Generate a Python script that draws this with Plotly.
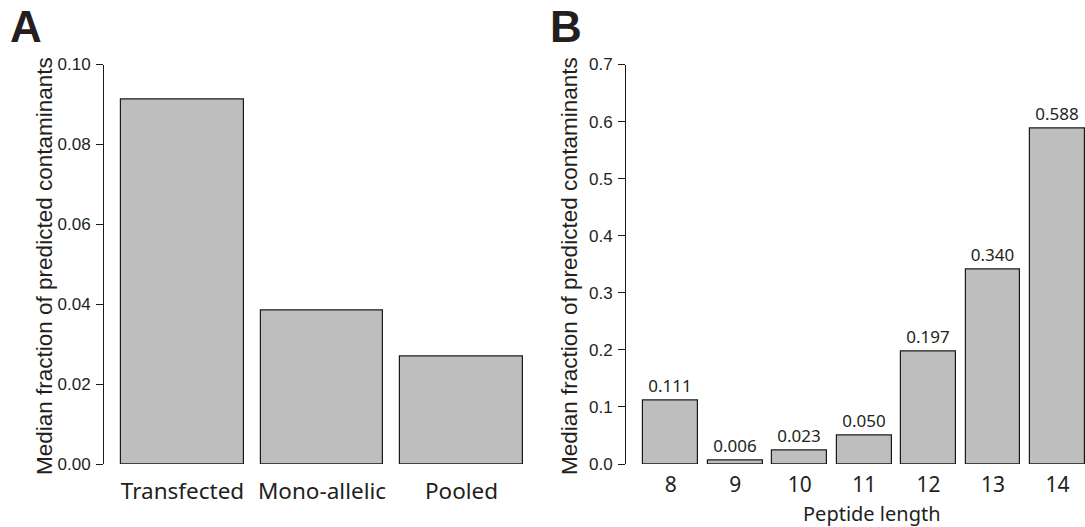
import plotly.graph_objects as go

# Panel A data
cell_types = ["Transfected", "Mono-allelic", "Pooled"]
frac_by_type = [0.0912, 0.0384, 0.0268]
a_ticks = [0.00, 0.02, 0.04, 0.06, 0.08, 0.10]
a_ticklabels = ["0.00", "0.02", "0.04", "0.06", "0.08", "0.10"]

# Panel B data
lengths = ["8", "9", "10", "11", "12", "13", "14"]
frac_by_length = [0.111, 0.006, 0.023, 0.050, 0.197, 0.340, 0.588]
b_ticks = [0.0, 0.1, 0.2, 0.3, 0.4, 0.5, 0.6, 0.7]
b_ticklabels = ["0.0", "0.1", "0.2", "0.3", "0.4", "0.5", "0.6", "0.7"]

y_title = "Median fraction of predicted contaminants"
x_title_b = "Peptide length"

W, H = 1085, 527
BAR = "#bebebe"
LINE = "#1a1a1a"
TXT = "#231f20"
HELV = "Liberation Sans, Arial, sans-serif"
MYR = "Noto Sans, Open Sans, sans-serif"

fig = go.Figure()
fig.add_trace(go.Bar(
    x=cell_types, y=frac_by_type, xaxis="x", yaxis="y",
    marker=dict(color=BAR, line=dict(color=LINE, width=1.2)),
    width=0.88, showlegend=False, hoverinfo="skip"))
fig.add_trace(go.Bar(
    x=lengths, y=frac_by_length, xaxis="x2", yaxis="y2",
    marker=dict(color=BAR, line=dict(color=LINE, width=1.2)),
    width=0.85, showlegend=False, hoverinfo="skip",
    text=[f"{v:.3f}" for v in frac_by_length], textposition="outside",
    textfont=dict(family=MYR, size=17, color=TXT), cliponaxis=False))

Y0, Y1 = 464, 64.5
ydom = [(H - Y0) / H, (H - Y1) / H]

def xr(center0, step, left, right):
    return [(left - center0) / step, (right - center0) / step]

yax_common = dict(showline=True, linecolor=LINE, linewidth=1, ticks="outside",
                  ticklen=7, tickcolor=LINE, tickwidth=1, showgrid=False, zeroline=False,
                  tickfont=dict(family=HELV, size=17, color=TXT), automargin=False,
                  ticklabelstandoff=2)

fig.update_layout(
    width=W, height=H, margin=dict(l=0, r=0, t=0, b=0, autoexpand=False),
    plot_bgcolor="white", paper_bgcolor="white",
    bargap=0,
    xaxis=dict(domain=[104 / W, 524 / W], range=xr(182.5, 139.5, 104, 524),
               type="category", showline=False, ticks="", showgrid=False,
               tickfont=dict(family=MYR, size=22.5, color=TXT), anchor="y",
               automargin=False, ticklabelstandoff=11),
    yaxis=dict(domain=ydom, range=[0, 0.1], tickvals=a_ticks, ticktext=a_ticklabels,
               anchor="x", **yax_common),
    xaxis2=dict(domain=[626 / W, 1.0], range=xr(670.8, 64.45, 626, 1085),
                type="category", showline=False, ticks="", showgrid=False,
                tickfont=dict(family=MYR, size=21, color=TXT), anchor="y2",
                automargin=False, ticklabelstandoff=6),
    yaxis2=dict(domain=ydom, range=[0, 0.7], tickvals=b_ticks, ticktext=b_ticklabels,
                anchor="x2", **yax_common),
    annotations=[
        dict(text="<b>A</b>", x=8 / W, y=1.0, xref="paper", yref="paper",
             xanchor="left", yanchor="top", showarrow=False,
             font=dict(family=HELV, size=44, color=TXT)),
        dict(text="<b>B</b>", x=548 / W, y=1.0, xref="paper", yref="paper",
             xanchor="left", yanchor="top", showarrow=False,
             font=dict(family=HELV, size=44, color=TXT)),
        dict(text=y_title, textangle=-90, x=44 / W, y=(H - 266) / H,
             xref="paper", yref="paper", xanchor="center", yanchor="middle",
             showarrow=False, font=dict(family=HELV, size=22.5, color=TXT)),
        dict(text=y_title, textangle=-90, x=569 / W, y=(H - 266) / H,
             xref="paper", yref="paper", xanchor="center", yanchor="middle",
             showarrow=False, font=dict(family=HELV, size=22.5, color=TXT)),
        dict(text=x_title_b, x=872 / W, y=(H - 513) / H,
             xref="paper", yref="paper", xanchor="center", yanchor="middle",
             showarrow=False, font=dict(family=MYR, size=20, color=TXT)),
    ],
)

fig.write_html("out.html")
